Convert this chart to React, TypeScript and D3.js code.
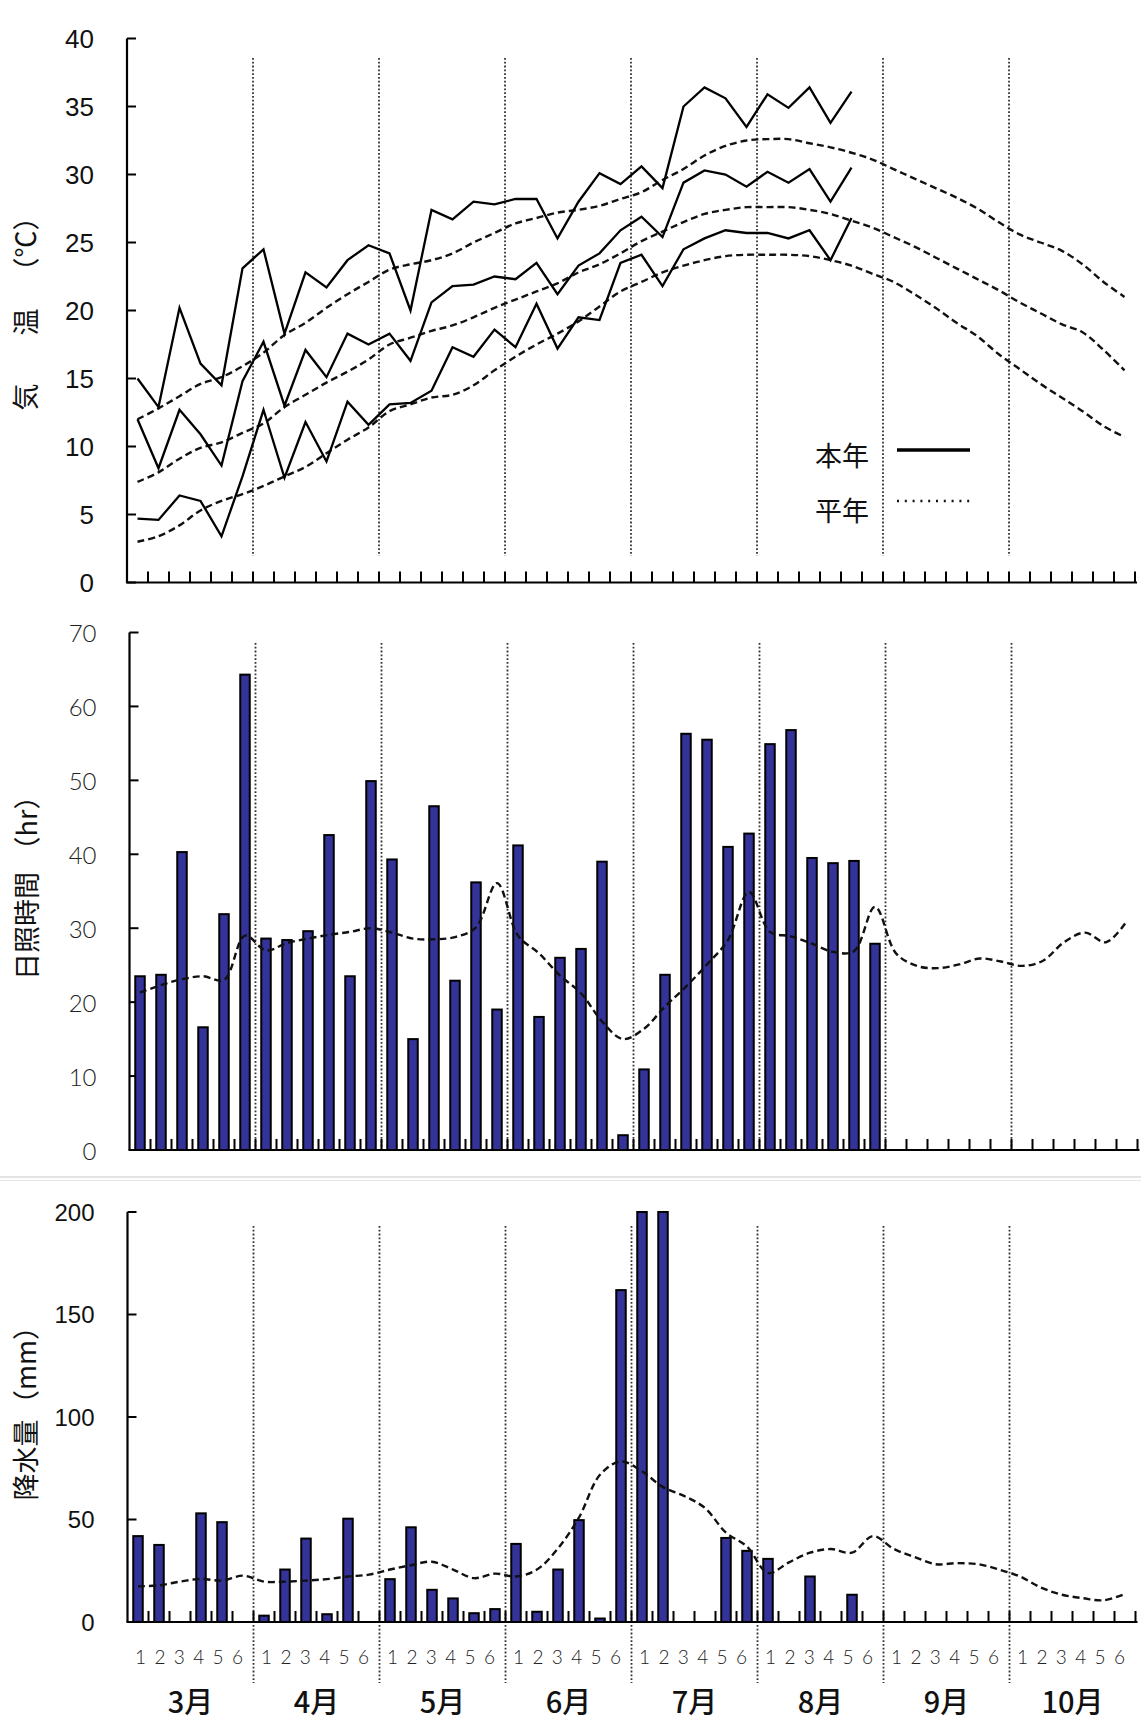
import * as d3 from "d3";

const months = ["3月", "4月", "5月", "6月", "7月", "8月", "9月", "10月"];
const dekads = ["1", "2", "3", "4", "5", "6"];
const nSlots = months.length * dekads.length;

// 気温 本年（半旬）
const maxTemp = [15.0, 12.9, 20.2, 16.1, 14.5, 23.1, 24.5, 18.3, 22.8, 21.7, 23.7, 24.8, 24.2, 20.0, 27.4, 26.7, 28.0, 27.8, 28.2, 28.2, 25.3, 28.0, 30.1, 29.3, 30.6, 29.0, 35.0, 36.4, 35.6, 33.5, 35.9, 34.9, 36.4, 33.8, 36.1];
const meanTemp = [12.0, 8.4, 12.7, 10.9, 8.6, 14.8, 17.7, 13.0, 17.1, 15.1, 18.3, 17.5, 18.3, 16.3, 20.6, 21.8, 21.9, 22.5, 22.3, 23.5, 21.2, 23.3, 24.2, 25.9, 26.9, 25.4, 29.4, 30.3, 30.0, 29.1, 30.2, 29.4, 30.4, 28.0, 30.5];
const minTemp = [4.7, 4.6, 6.4, 6.0, 3.4, 7.8, 12.7, 7.7, 11.8, 8.9, 13.3, 11.6, 13.1, 13.2, 14.1, 17.3, 16.6, 18.6, 17.3, 20.5, 17.2, 19.5, 19.3, 23.5, 24.1, 21.8, 24.5, 25.3, 25.9, 25.7, 25.7, 25.3, 25.9, 23.7, 26.8];
// 気温 平年
const normalMax = [12.0, 12.8, 13.7, 14.6, 15.1, 15.9, 16.9, 18.2, 19.1, 20.2, 21.2, 22.1, 23.0, 23.4, 23.7, 24.2, 25.0, 25.7, 26.4, 26.8, 27.2, 27.4, 27.7, 28.2, 28.7, 29.6, 30.4, 31.4, 32.1, 32.5, 32.6, 32.6, 32.3, 32.0, 31.6, 31.1, 30.4, 29.7, 29.0, 28.3, 27.5, 26.5, 25.6, 25.0, 24.4, 23.4, 22.1, 21.0];
const normalMean = [7.4, 8.1, 9.1, 9.9, 10.3, 11.0, 11.7, 12.9, 13.8, 14.7, 15.5, 16.4, 17.5, 18.0, 18.5, 18.9, 19.5, 20.2, 20.8, 21.4, 22.0, 22.8, 23.4, 24.2, 25.1, 25.8, 26.5, 27.1, 27.4, 27.6, 27.6, 27.6, 27.4, 27.1, 26.6, 26.1, 25.4, 24.7, 23.9, 23.1, 22.3, 21.5, 20.6, 19.8, 19.0, 18.4, 17.1, 15.6];
const normalMin = [3.0, 3.4, 4.2, 5.3, 6.0, 6.5, 7.1, 7.8, 8.5, 9.5, 10.5, 11.4, 12.6, 13.1, 13.6, 13.8, 14.5, 15.6, 16.6, 17.5, 18.3, 19.2, 20.3, 21.4, 22.1, 22.8, 23.3, 23.7, 24.0, 24.1, 24.1, 24.1, 24.0, 23.7, 23.3, 22.7, 22.1, 21.2, 20.2, 19.1, 18.1, 16.8, 15.7, 14.6, 13.6, 12.6, 11.5, 10.7];

// 日照時間
const sunshine = [23.5, 23.7, 40.3, 16.6, 31.9, 64.3, 28.6, 28.4, 29.6, 42.6, 23.5, 49.9, 39.3, 15.0, 46.5, 22.9, 36.2, 19.0, 41.2, 18.0, 26.0, 27.2, 39.0, 2.0, 10.9, 23.7, 56.3, 55.5, 41.0, 42.8, 54.9, 56.8, 39.5, 38.8, 39.1, 27.9];
const normalSunshine = [21.3, 22.3, 23.1, 23.5, 23.0, 29.0, 27.0, 28.0, 28.6, 29.1, 29.5, 30.0, 29.4, 28.6, 28.5, 28.8, 30.1, 36.1, 29.0, 26.6, 23.6, 21.2, 17.4, 15.0, 16.4, 19.4, 22.1, 25.1, 28.4, 34.9, 29.5, 28.9, 27.9, 26.8, 26.9, 32.9, 26.6, 24.9, 24.6, 25.1, 25.9, 25.5, 24.9, 25.6, 28.1, 29.4, 28.1, 31.0];

// 降水量 (7月1・2半旬は軸の上限200で切れている)
const precip = [41.9, 37.6, 0, 53.0, 48.7, 0, 3.1, 25.6, 40.7, 3.8, 50.4, 0, 20.9, 46.2, 15.7, 11.5, 4.3, 6.3, 38.1, 5.0, 25.6, 49.7, 1.7, 161.9, 200, 200, 0, 0, 41.0, 34.7, 30.8, 0, 22.2, 0, 13.3, 0];
const normalPrecip = [17.4, 17.9, 19.7, 21.0, 20.2, 22.6, 19.7, 19.7, 20.2, 20.9, 22.2, 23.1, 25.6, 27.7, 29.4, 25.6, 21.4, 23.6, 22.2, 25.6, 35.9, 51.0, 71.8, 78.3, 73.5, 65.8, 61.5, 55.6, 43.6, 36.8, 23.9, 29.1, 33.8, 35.6, 33.8, 41.9, 35.6, 31.6, 28.2, 28.7, 28.2, 25.6, 22.2, 16.8, 13.3, 11.6, 10.6, 13.7];

const tempTicks = d3.range(0, 41, 5);
const sunTicks = d3.range(0, 71, 10);
const rainTicks = d3.range(0, 201, 50);

const W = 1141,
  H = 1720;
const barColor = "#333399";
const cjk = "'Noto Sans CJK JP', sans-serif";
const normalDash = "7 4";

const boldDigits = { fontFamily: "'Liberation Sans', Arial, sans-serif", fill: "#111" };
const thinDigits = { fontFamily: "Lato, 'Liberation Sans', sans-serif", fontWeight: 300, fill: "#222" };

function Panel(props) {
  const { x, y, ticks, tickFont, tickSize, guideTop, guideBottom } = props;
  const [x0, x1] = x.range();
  const [y0, yTop] = y.range();
  const slots = d3.range(1, nSlots + 1);
  const boundaries = d3.range(6, nSlots, 6);
  return (
    <g>
      {boundaries.map((b) => (
        <line
          key={"g" + b}
          x1={x(b)}
          x2={x(b)}
          y1={guideTop}
          y2={guideBottom}
          stroke="#333"
          strokeWidth={1.8}
          strokeDasharray="1.8 2"
        />
      ))}
      <line x1={x0} x2={x0} y1={yTop} y2={y0} stroke="#000" strokeWidth={2.2} />
      <line x1={x0 - 1} x2={x1 + 2} y1={y0} y2={y0} stroke="#000" strokeWidth={2.2} />
      {slots.map((s) => (
        <line key={"t" + s} x1={x(s)} x2={x(s)} y1={y0} y2={y0 - 11} stroke="#000" strokeWidth={2} />
      ))}
      {ticks.map((t) => (
        <g key={"y" + t}>
          <line x1={x0} x2={x0 + 9} y1={y(t)} y2={y(t)} stroke="#000" strokeWidth={2} />
          <text
            x={x0 - 33}
            y={y(t)}
            textAnchor="end"
            dominantBaseline="central"
            fontSize={tickSize}
            {...tickFont}
          >
            {t}
          </text>
        </g>
      ))}
    </g>
  );
}

function Bars({ data, x, y }) {
  const bw = 9.5;
  return (
    <g>
      {data.map((v, i) =>
        v > 0 ? (
          <rect
            key={i}
            x={x(i + 0.5) - bw / 2}
            y={y(v)}
            width={bw}
            height={y(0) - y(v)}
            fill={barColor}
            stroke="#000"
            strokeWidth={2}
          />
        ) : null
      )}
    </g>
  );
}

function VTitle({ x, y, text, size = 27 }) {
  return (
    <text
      transform={`translate(${x} ${y}) rotate(-90)`}
      textAnchor="middle"
      dominantBaseline="central"
      fontFamily={cjk}
      fontSize={size}
      fill="#111"
    >
      {text}
    </text>
  );
}

export default function App() {
  // 気温
  const xT = d3.scaleLinear().domain([0, nSlots]).range([127, 1135]);
  const yT = d3.scaleLinear().domain([0, 40]).range([582.5, 38.5]);
  // 日照
  const xS = d3.scaleLinear().domain([0, nSlots]).range([129.5, 1137.5]);
  const yS = d3.scaleLinear().domain([0, 70]).range([1150, 632.5]);
  // 降水
  const xR = d3.scaleLinear().domain([0, nSlots]).range([127.5, 1135.5]);
  const yR = d3.scaleLinear().domain([0, 200]).range([1622, 1212]).clamp(true);

  const solid = (x, y) =>
    d3
      .line<number>()
      .x((_, i) => x(i + 0.5))
      .y((d) => y(d));
  const smooth = (x, y) =>
    d3
      .line<number>()
      .x((_, i) => x(i + 0.5))
      .y((d) => y(d))
      .curve(d3.curveCatmullRom.alpha(0.5));

  const dekadX = d3.scalePoint().domain(dekads).range([13, 110]);

  return (
    <div style={{ position: "absolute", left: 0, top: 0 }}>
      <svg width={W} height={H} viewBox={`0 0 ${W} ${H}`} style={{ display: "block", background: "#fff" }}>
        <rect x={0} y={0} width={W} height={H} fill="#fff" />

        {/* 気温 */}
        <Panel x={xT} y={yT} ticks={tempTicks} tickFont={boldDigits} tickSize={26} guideTop={58} guideBottom={556} />
        {[normalMax, normalMean, normalMin].map((d, k) => (
          <path
            key={"n" + k}
            d={smooth(xT, yT)(d)}
            fill="none"
            stroke="#111"
            strokeWidth={2.4}
            strokeDasharray={normalDash}
          />
        ))}
        {[maxTemp, meanTemp, minTemp].map((d, k) => (
          <path key={"c" + k} d={solid(xT, yT)(d)} fill="none" stroke="#000" strokeWidth={2.3} strokeLinejoin="miter" />
        ))}
        <VTitle x={24} y={397} text="気" />
        <VTitle x={24} y={322} text="温" />
        <VTitle x={24} y={244} text="（℃）" />
        <g fontFamily={cjk} fontSize={27} fill="#111">
          <text x={815} y={454} dominantBaseline="central">
            本年
          </text>
          <text x={815} y={509} dominantBaseline="central">
            平年
          </text>
        </g>
        <line x1={897} x2={970} y1={450} y2={450} stroke="#000" strokeWidth={3.5} />
        <line x1={897} x2={970} y1={501} y2={501} stroke="#111" strokeWidth={2.4} strokeDasharray="2 5.8" />

        {/* 日照時間 */}
        <Panel x={xS} y={yS} ticks={sunTicks} tickFont={thinDigits} tickSize={24} guideTop={643} guideBottom={1150} />
        <Bars data={sunshine} x={xS} y={yS} />
        <path
          d={smooth(xS, yS)(normalSunshine)}
          fill="none"
          stroke="#111"
          strokeWidth={2.4}
          strokeDasharray={normalDash}
        />
        <VTitle x={25} y={926} text="日照時間" />
        <VTitle x={25} y={823} text="（hr）" />

        {/* 区切り */}
        <line x1={0} x2={W} y1={1177} y2={1177} stroke="#c8c8c8" strokeWidth={1} />
        <line x1={0} x2={W} y1={1180.5} y2={1180.5} stroke="#e6e6e6" strokeWidth={1} />

        {/* 降水量 */}
        <Panel x={xR} y={yR} ticks={rainTicks} tickFont={boldDigits} tickSize={24} guideTop={1226} guideBottom={1683} />
        <Bars data={precip} x={xR} y={yR} />
        <path
          d={smooth(xR, yR)(normalPrecip)}
          fill="none"
          stroke="#111"
          strokeWidth={2.4}
          strokeDasharray={normalDash}
        />
        <VTitle x={24} y={1460} text="降水量" />
        <VTitle x={24} y={1365} text="（mm）" />

        {months.map((m, mi) => (
          <g key={m}>
            {dekads.map((d) => (
              <text
                key={d}
                x={xR(mi * 6) + dekadX(d)}
                y={1656}
                textAnchor="middle"
                dominantBaseline="central"
                fontSize={19}
                {...thinDigits}
              >
                {d}
              </text>
            ))}
            <text
              x={xR(mi * 6 + 3)}
              y={1700}
              textAnchor="middle"
              dominantBaseline="central"
              fontFamily={cjk}
              fontWeight={500}
              fontSize={29}
              fill="#111"
            >
              {m}
            </text>
          </g>
        ))}
      </svg>
    </div>
  );
}
